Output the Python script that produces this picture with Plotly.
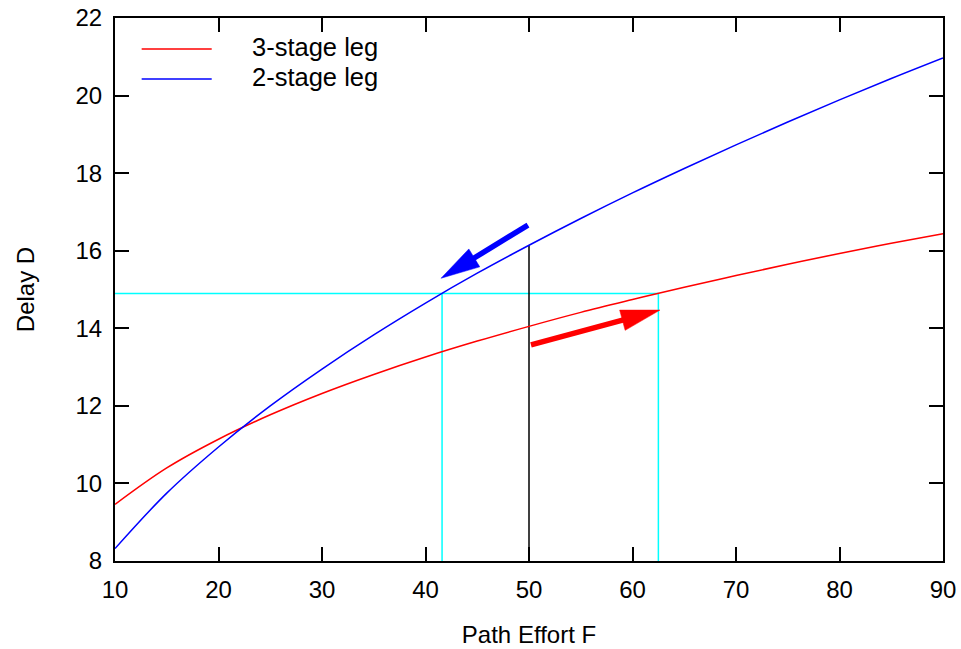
import math
import plotly.graph_objects as go

# Path effort F samples and delay values
F = [10, 15, 20, 25, 30, 35, 40, 45, 50, 55, 60, 65, 70, 75, 80, 85, 90]
d3 = [9.46, 10.40, 11.14, 11.77, 12.32, 12.81, 13.26, 13.67, 14.05, 14.41,
      14.74, 15.06, 15.36, 15.65, 15.93, 16.19, 16.44]
d2 = [8.32, 9.75, 10.94, 12.00, 12.95, 13.83, 14.65, 15.42, 16.14, 16.83,
      17.49, 18.12, 18.73, 19.32, 19.89, 20.44, 20.97]

# guide lines
cyan_h_x = [10, 62.5]
cyan_h_y = [14.9, 14.9]
cyan_v1_x = [41.6, 41.6]
cyan_v2_x = [62.5, 62.5]
cyan_v_y = [8, 14.9]
black_v_x = [50, 50]
black_v_y = [8, 16.14]

# arrows: (tail x, tail y, head x, head y)
blue_arrow = [49.9, 16.66, 41.5, 15.29]
red_arrow = [50.19, 13.57, 62.66, 14.47]

xticks = [10, 20, 30, 40, 50, 60, 70, 80, 90]
yticks = [8, 10, 12, 14, 16, 18, 20, 22]
XR = [10, 90]
YR = [8, 22]

W, H = 961, 649
ML, MR, MT, MB = 115, 18, 18, 88
PW, PH = W - ML - MR, H - MT - MB
sx = PW / (XR[1] - XR[0])
sy = PH / (YR[1] - YR[0])

FONT = "Liberation Sans, Arial, sans-serif"

fig = go.Figure()
fig.add_trace(go.Scatter(x=cyan_h_x, y=cyan_h_y, mode="lines",
                         line=dict(color="#00ffff", width=1.5), showlegend=False))
fig.add_trace(go.Scatter(x=cyan_v1_x, y=cyan_v_y, mode="lines",
                         line=dict(color="#00ffff", width=1.5), showlegend=False))
fig.add_trace(go.Scatter(x=cyan_v2_x, y=cyan_v_y, mode="lines",
                         line=dict(color="#00ffff", width=1.5), showlegend=False))
fig.add_trace(go.Scatter(x=black_v_x, y=black_v_y, mode="lines",
                         line=dict(color="black", width=1.5), showlegend=False))
fig.add_trace(go.Scatter(x=F, y=d3, mode="lines", name="3-stage leg",
                         line=dict(color="#ff0000", width=1.5, shape="spline"),
                         showlegend=False))
fig.add_trace(go.Scatter(x=F, y=d2, mode="lines", name="2-stage leg",
                         line=dict(color="#0000ff", width=1.5, shape="spline"),
                         showlegend=False))

# arrows: shaft line + triangular head, computed in pixel space
HEAD_LEN, HEAD_HALF = 39, 10.5
for arr, col in [(blue_arrow, "#0000ff"), (red_arrow, "#ff0000")]:
    tx, ty, hx, hy = arr
    dxp = (hx - tx) * sx
    dyp = (hy - ty) * sy
    L = math.hypot(dxp, dyp)
    ux, uy = dxp / L, dyp / L
    bx = hx - ux * HEAD_LEN / sx
    by = hy - uy * HEAD_LEN / sy
    p1x = bx + (-uy * HEAD_HALF) / sx
    p1y = by + (ux * HEAD_HALF) / sy
    p2x = bx + (uy * HEAD_HALF) / sx
    p2y = by + (-ux * HEAD_HALF) / sy
    sxe = hx - ux * (HEAD_LEN - 4) / sx
    sye = hy - uy * (HEAD_LEN - 4) / sy
    fig.add_shape(type="line", xref="x", yref="y", x0=tx, y0=ty, x1=sxe, y1=sye,
                  line=dict(color=col, width=5.5))
    fig.add_shape(type="path", xref="x", yref="y",
                  path=f"M {hx},{hy} L {p1x},{p1y} L {p2x},{p2y} Z",
                  fillcolor=col, line=dict(color=col, width=0.5))

# manual legend
legend_items = [("3-stage leg", "#ff0000", 0.9429), ("2-stage leg", "#0000ff", 0.8877)]
for label, col, yy in legend_items:
    fig.add_shape(type="line", xref="paper", yref="paper",
                  x0=0.0322, x1=0.1168, y0=yy, y1=yy,
                  line=dict(color=col, width=1.5))
    fig.add_annotation(xref="paper", yref="paper", x=0.1625, y=yy + 0.004,
                       xanchor="left", yanchor="middle", showarrow=False,
                       text=label, font=dict(family=FONT, size=25.5, color="black"))

axis_common = dict(showline=True, linecolor="black", linewidth=2, mirror="ticks",
                   ticks="inside", ticklen=14, tickwidth=1.5, tickcolor="black",
                   showgrid=False, zeroline=False, automargin=False,
                   ticklabelstandoff=6,
                   tickfont=dict(family=FONT, size=24, color="black"))

fig.update_xaxes(range=XR, tickvals=xticks, **axis_common,
                 title=dict(text="Path Effort F", standoff=24,
                            font=dict(family=FONT, size=24, color="black")))
fig.update_yaxes(range=YR, tickvals=yticks, **axis_common,
                 title=dict(text="Delay D", standoff=34,
                            font=dict(family=FONT, size=24, color="black")))

fig.update_layout(width=W, height=H, plot_bgcolor="white", paper_bgcolor="white",
                  margin=dict(l=ML, r=MR, t=MT, b=MB), showlegend=False)

fig.write_html("out.html", config={"displayModeBar": False},
               post_script="document.body.style.margin='0';document.body.style.overflow='hidden';")
